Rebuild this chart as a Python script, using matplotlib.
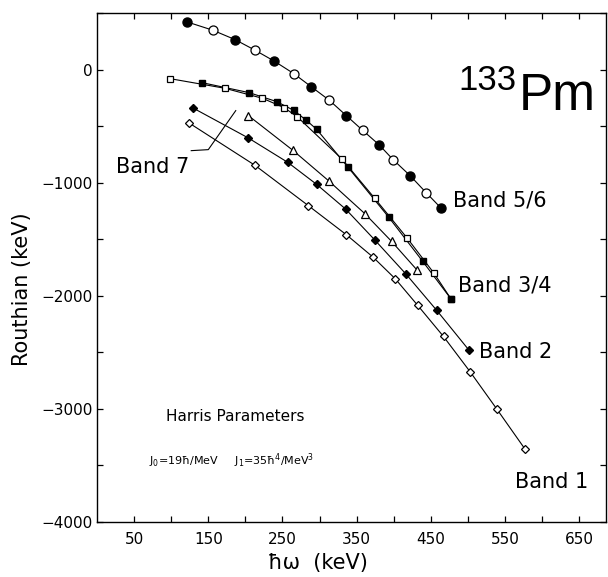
import numpy as np
import matplotlib
matplotlib.use("Agg")
import matplotlib.pyplot as plt
from matplotlib.ticker import MultipleLocator, FixedLocator

plt.rcParams["font.family"] = ["DejaVu Sans"]
plt.rcParams["mathtext.default"] = "regular"

# ── Data ─────────────────────────────────────────────────────────────────────
# Band 5/6: alternating signature, one line through all points
b56_filled_x = [121, 186, 239, 289, 336, 380, 422, 464]
b56_filled_y = [422, 265, 74, -153, -407, -664, -938, -1227]
b56_open_x = [156, 213, 265, 313, 358, 399, 444]
b56_open_y = [348, 171, -35, -271, -537, -796, -1091]

# Band 3/4: two signature partners
b34_open_x = [98, 172, 223, 252, 270, 330, 374, 418, 454, 477]
b34_open_y = [-80, -165, -254, -336, -418, -790, -1136, -1490, -1799, -2027]
b34_filled_x = [141, 205, 242, 265, 282, 296, 338, 393, 439, 477]
b34_filled_y = [-115, -204, -283, -360, -448, -528, -861, -1304, -1696, -2027]

# Band 2 (filled diamonds)
b2_x = [130, 204, 257, 296, 335, 374, 416, 458, 501]
b2_y = [-342, -605, -820, -1015, -1233, -1504, -1805, -2130, -2478]

# Band 1 (open diamonds)
b1_x = [124, 213, 285, 336, 372, 402, 432, 467, 503, 539, 577]
b1_y = [-472, -847, -1204, -1460, -1658, -1850, -2083, -2360, -2673, -3003, -3357]

# Band 7 (open triangles)
b7_x = [204, 264, 313, 361, 397, 431]
b7_y = [-407, -714, -988, -1274, -1519, -1770]

band_labels = ["Band 5/6", "Band 3/4", "Band 2", "Band 1", "Band 7"]

# ── Figure ───────────────────────────────────────────────────────────────────
fig = plt.figure(figsize=(6.08, 5.77), dpi=100)
ax = fig.add_axes([97 / 608, 1 - 522 / 577, (606 - 97) / 608, (522 - 13) / 577])

lw = 0.8
# Band 5/6 line through merged points
x56 = np.array(b56_filled_x + b56_open_x)
y56 = np.array(b56_filled_y + b56_open_y)
order = np.argsort(x56)
ax.plot(x56[order], y56[order], "-", color="black", lw=lw, zorder=2)
ax.plot(b56_filled_x, b56_filled_y, "o", ms=6.5, mfc="black", mec="black", zorder=3)
ax.plot(b56_open_x, b56_open_y, "o", ms=6.5, mfc="white", mec="black", mew=0.9, zorder=3)

# Band 3/4
ax.plot(b34_open_x, b34_open_y, "-", color="black", lw=lw, zorder=2)
ax.plot(b34_filled_x, b34_filled_y, "-", color="black", lw=lw, zorder=2)
ax.plot(b34_open_x, b34_open_y, "s", ms=5, mfc="white", mec="black", mew=0.9, zorder=3)
ax.plot(b34_filled_x, b34_filled_y, "s", ms=5, mfc="black", mec="black", zorder=4)

# Band 2
ax.plot(b2_x, b2_y, "-D", color="black", lw=lw, ms=4.5, mfc="black", mec="black", zorder=3)

# Band 1
ax.plot(b1_x, b1_y, "-D", color="black", lw=lw, ms=4, mfc="white", mec="black", mew=0.9, zorder=3)

# Band 7
ax.plot(b7_x, b7_y, "-^", color="black", lw=lw, ms=6, mfc="white", mec="black", mew=0.9, zorder=3)

# Band labels
ax.text(480, -1160, band_labels[0], fontsize=15, va="center", ha="left")
ax.text(487, -1911, band_labels[1], fontsize=15, va="center", ha="left")
ax.text(515, -2496, band_labels[2], fontsize=15, va="center", ha="left")
ax.text(563, -3646, band_labels[3], fontsize=15, va="center", ha="left")
ax.text(125, -858, band_labels[4], fontsize=15, va="center", ha="right")
# leader line for Band 7
ax.plot([187, 150, 127], [-363, -708, -717], "-", color="black", lw=lw)

# Nucleus label
ax.text(487, -177, "133", fontsize=25, va="baseline", ha="left",
        family=["Liberation Sans", "DejaVu Sans"])
ax.text(568, -354, "Pm", fontsize=37, va="baseline", ha="left",
        family=["Liberation Sans", "DejaVu Sans"])

# Harris parameters
ax.text(93, -3071, "Harris Parameters", fontsize=11, va="center", ha="left")
ax.text(70, -3460, r"$J_0$=19ħ/MeV     $J_1$=35ħ$^4$/MeV$^3$",
        fontsize=8, va="center", ha="left")

# Axes
ax.set_xlim(0, 686)
ax.set_ylim(-4000, 500)
ax.xaxis.set_major_locator(FixedLocator([50, 150, 250, 350, 450, 550, 650]))
ax.xaxis.set_minor_locator(FixedLocator([100, 200, 300, 400, 500, 600]))
ax.yaxis.set_minor_locator(MultipleLocator(500))
ax.set_yticks([-4000, -3000, -2000, -1000, 0])
ax.set_yticklabels(["\u22124000", "\u22123000", "\u22122000", "\u22121000", "0"])
ax.tick_params(which="both", direction="in", top=True, right=True,
               length=4, width=0.9, labelsize=11)
ax.tick_params(axis="x", which="both", pad=7)
ax.tick_params(axis="y", which="both", pad=3)
for s in ax.spines.values():
    s.set_linewidth(1.0)

fig.text(318 / 608, 1 - 563 / 577, "ħω  (keV)", fontsize=15, ha="center", va="center")
fig.text(22 / 608, 1 - 289 / 577, "Routhian (keV)", fontsize=15, ha="center",
         va="center", rotation=90)

fig.savefig("out.png", dpi=100)
